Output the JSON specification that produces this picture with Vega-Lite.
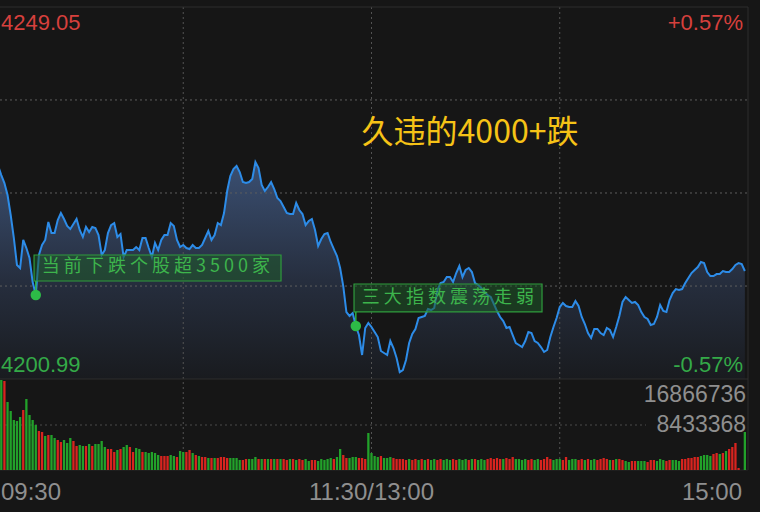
{
  "$schema": "https://vega.github.io/schema/vega-lite/v6.json",
  "width": 760,
  "height": 512,
  "autosize": {"type": "none"},
  "padding": 0,
  "background": "#161616",
  "config": {"view": {"stroke": null}, "axis": {"disable": true}},
  "datasets": {
    "minutes": [
      {"t": 0, "price": 4229.28, "vol": 16679312, "dir": "down"},
      {"t": 1, "price": 4228.51, "vol": 15929680, "dir": "up"},
      {"t": 2, "price": 4227.34, "vol": 16866736, "dir": "down"},
      {"t": 3, "price": 4226.31, "vol": 16679312, "dir": "up"},
      {"t": 4, "price": 4224.76, "vol": 12743744, "dir": "down"},
      {"t": 5, "price": 4222.18, "vol": 11057072, "dir": "down"},
      {"t": 6, "price": 4219.21, "vol": 9370400, "dir": "down"},
      {"t": 7, "price": 4215.72, "vol": 9182992, "dir": "down"},
      {"t": 8, "price": 4215.33, "vol": 9932624, "dir": "down"},
      {"t": 9, "price": 4218.95, "vol": 11244480, "dir": "up"},
      {"t": 10, "price": 4217.91, "vol": 13305968, "dir": "down"},
      {"t": 11, "price": 4216.62, "vol": 10307440, "dir": "down"},
      {"t": 12, "price": 4213.52, "vol": 9370400, "dir": "down"},
      {"t": 13, "price": 4211.84, "vol": 8433360, "dir": "down"},
      {"t": 14, "price": 4217.01, "vol": 7308912, "dir": "up"},
      {"t": 15, "price": 4218.30, "vol": 7121504, "dir": "up"},
      {"t": 16, "price": 4218.95, "vol": 6371872, "dir": "down"},
      {"t": 17, "price": 4221.27, "vol": 6559280, "dir": "up"},
      {"t": 18, "price": 4219.85, "vol": 6559280, "dir": "down"},
      {"t": 19, "price": 4219.85, "vol": 5997056, "dir": "down"},
      {"t": 20, "price": 4221.53, "vol": 5622240, "dir": "up"},
      {"t": 21, "price": 4222.43, "vol": 5247424, "dir": "up"},
      {"t": 22, "price": 4221.66, "vol": 5622240, "dir": "down"},
      {"t": 23, "price": 4220.76, "vol": 5060016, "dir": "down"},
      {"t": 24, "price": 4220.37, "vol": 5997056, "dir": "down"},
      {"t": 25, "price": 4221.01, "vol": 5434832, "dir": "up"},
      {"t": 26, "price": 4221.66, "vol": 4497792, "dir": "up"},
      {"t": 27, "price": 4220.24, "vol": 4685200, "dir": "down"},
      {"t": 28, "price": 4219.34, "vol": 4497792, "dir": "down"},
      {"t": 29, "price": 4220.63, "vol": 4497792, "dir": "up"},
      {"t": 30, "price": 4219.98, "vol": 4872608, "dir": "down"},
      {"t": 31, "price": 4220.63, "vol": 4497792, "dir": "up"},
      {"t": 32, "price": 4220.50, "vol": 4872608, "dir": "down"},
      {"t": 33, "price": 4219.59, "vol": 4872608, "dir": "down"},
      {"t": 34, "price": 4217.01, "vol": 5434832, "dir": "down"},
      {"t": 35, "price": 4217.65, "vol": 4310384, "dir": "down"},
      {"t": 36, "price": 4219.85, "vol": 3935568, "dir": "up"},
      {"t": 37, "price": 4220.88, "vol": 3935568, "dir": "up"},
      {"t": 38, "price": 4221.14, "vol": 3373344, "dir": "up"},
      {"t": 39, "price": 4219.34, "vol": 3748160, "dir": "down"},
      {"t": 40, "price": 4219.72, "vol": 3935568, "dir": "up"},
      {"t": 41, "price": 4216.75, "vol": 4310384, "dir": "down"},
      {"t": 42, "price": 4217.65, "vol": 4685200, "dir": "down"},
      {"t": 43, "price": 4217.65, "vol": 4310384, "dir": "up"},
      {"t": 44, "price": 4217.65, "vol": 3373344, "dir": "up"},
      {"t": 45, "price": 4218.04, "vol": 4122976, "dir": "down"},
      {"t": 46, "price": 4217.65, "vol": 3935568, "dir": "down"},
      {"t": 47, "price": 4219.21, "vol": 3373344, "dir": "up"},
      {"t": 48, "price": 4219.21, "vol": 3373344, "dir": "down"},
      {"t": 49, "price": 4217.91, "vol": 3185936, "dir": "down"},
      {"t": 50, "price": 4216.75, "vol": 3373344, "dir": "down"},
      {"t": 51, "price": 4218.56, "vol": 3185936, "dir": "down"},
      {"t": 52, "price": 4217.65, "vol": 2811120, "dir": "down"},
      {"t": 53, "price": 4218.95, "vol": 2623712, "dir": "up"},
      {"t": 54, "price": 4219.59, "vol": 2623712, "dir": "up"},
      {"t": 55, "price": 4219.59, "vol": 2623712, "dir": "up"},
      {"t": 56, "price": 4221.14, "vol": 2811120, "dir": "down"},
      {"t": 57, "price": 4220.76, "vol": 2623712, "dir": "down"},
      {"t": 58, "price": 4218.95, "vol": 2436304, "dir": "up"},
      {"t": 59, "price": 4218.04, "vol": 3560752, "dir": "down"},
      {"t": 60, "price": 4218.30, "vol": 3373344, "dir": "down"},
      {"t": 61, "price": 4217.91, "vol": 3373344, "dir": "up"},
      {"t": 62, "price": 4217.78, "vol": 3748160, "dir": "up"},
      {"t": 63, "price": 4218.30, "vol": 3185936, "dir": "down"},
      {"t": 64, "price": 4217.91, "vol": 2811120, "dir": "up"},
      {"t": 65, "price": 4217.91, "vol": 2623712, "dir": "down"},
      {"t": 66, "price": 4218.30, "vol": 2436304, "dir": "up"},
      {"t": 67, "price": 4219.21, "vol": 2436304, "dir": "up"},
      {"t": 68, "price": 4220.11, "vol": 2248896, "dir": "down"},
      {"t": 69, "price": 4218.95, "vol": 2248896, "dir": "up"},
      {"t": 70, "price": 4219.59, "vol": 2248896, "dir": "down"},
      {"t": 71, "price": 4221.14, "vol": 2248896, "dir": "up"},
      {"t": 72, "price": 4220.88, "vol": 2436304, "dir": "up"},
      {"t": 73, "price": 4222.43, "vol": 2436304, "dir": "up"},
      {"t": 74, "price": 4225.28, "vol": 2248896, "dir": "up"},
      {"t": 75, "price": 4227.21, "vol": 2248896, "dir": "down"},
      {"t": 76, "price": 4228.12, "vol": 2248896, "dir": "down"},
      {"t": 77, "price": 4228.51, "vol": 2248896, "dir": "down"},
      {"t": 78, "price": 4227.73, "vol": 1874080, "dir": "down"},
      {"t": 79, "price": 4226.44, "vol": 1874080, "dir": "up"},
      {"t": 80, "price": 4226.31, "vol": 2061488, "dir": "up"},
      {"t": 81, "price": 4226.44, "vol": 2061488, "dir": "down"},
      {"t": 82, "price": 4226.83, "vol": 2061488, "dir": "down"},
      {"t": 83, "price": 4229.02, "vol": 2436304, "dir": "down"},
      {"t": 84, "price": 4228.25, "vol": 2061488, "dir": "up"},
      {"t": 85, "price": 4226.05, "vol": 2061488, "dir": "down"},
      {"t": 86, "price": 4225.28, "vol": 2061488, "dir": "up"},
      {"t": 87, "price": 4225.79, "vol": 2061488, "dir": "down"},
      {"t": 88, "price": 4226.44, "vol": 2061488, "dir": "up"},
      {"t": 89, "price": 4225.53, "vol": 2061488, "dir": "down"},
      {"t": 90, "price": 4224.37, "vol": 2061488, "dir": "up"},
      {"t": 91, "price": 4223.98, "vol": 2061488, "dir": "down"},
      {"t": 92, "price": 4223.21, "vol": 2061488, "dir": "up"},
      {"t": 93, "price": 4222.43, "vol": 1874080, "dir": "up"},
      {"t": 94, "price": 4222.30, "vol": 2061488, "dir": "down"},
      {"t": 95, "price": 4222.30, "vol": 2061488, "dir": "up"},
      {"t": 96, "price": 4223.73, "vol": 1874080, "dir": "down"},
      {"t": 97, "price": 4222.82, "vol": 2061488, "dir": "up"},
      {"t": 98, "price": 4222.30, "vol": 1874080, "dir": "up"},
      {"t": 99, "price": 4220.88, "vol": 2061488, "dir": "down"},
      {"t": 100, "price": 4221.40, "vol": 1686672, "dir": "down"},
      {"t": 101, "price": 4221.66, "vol": 1874080, "dir": "up"},
      {"t": 102, "price": 4220.24, "vol": 1874080, "dir": "up"},
      {"t": 103, "price": 4218.17, "vol": 1686672, "dir": "down"},
      {"t": 104, "price": 4219.08, "vol": 2061488, "dir": "down"},
      {"t": 105, "price": 4219.72, "vol": 1874080, "dir": "down"},
      {"t": 106, "price": 4219.85, "vol": 2061488, "dir": "down"},
      {"t": 107, "price": 4218.69, "vol": 2248896, "dir": "down"},
      {"t": 108, "price": 4217.78, "vol": 2061488, "dir": "up"},
      {"t": 109, "price": 4216.88, "vol": 2436304, "dir": "down"},
      {"t": 110, "price": 4215.33, "vol": 3935568, "dir": "down"},
      {"t": 111, "price": 4213.00, "vol": 2811120, "dir": "up"},
      {"t": 112, "price": 4209.64, "vol": 2248896, "dir": "up"},
      {"t": 113, "price": 4209.13, "vol": 2248896, "dir": "down"},
      {"t": 114, "price": 4209.51, "vol": 2436304, "dir": "down"},
      {"t": 115, "price": 4207.83, "vol": 2436304, "dir": "down"},
      {"t": 116, "price": 4206.67, "vol": 2248896, "dir": "up"},
      {"t": 117, "price": 4204.09, "vol": 2248896, "dir": "up"},
      {"t": 118, "price": 4207.58, "vol": 2061488, "dir": "up"},
      {"t": 119, "price": 4208.22, "vol": 6934096, "dir": "down"},
      {"t": 120, "price": 4207.71, "vol": 3185936, "dir": "down"},
      {"t": 121, "price": 4207.06, "vol": 2623712, "dir": "down"},
      {"t": 122, "price": 4206.41, "vol": 2436304, "dir": "down"},
      {"t": 123, "price": 4204.61, "vol": 2623712, "dir": "up"},
      {"t": 124, "price": 4204.35, "vol": 2248896, "dir": "down"},
      {"t": 125, "price": 4204.09, "vol": 2248896, "dir": "down"},
      {"t": 126, "price": 4205.90, "vol": 2436304, "dir": "down"},
      {"t": 127, "price": 4204.99, "vol": 2248896, "dir": "up"},
      {"t": 128, "price": 4203.70, "vol": 2061488, "dir": "up"},
      {"t": 129, "price": 4201.89, "vol": 2061488, "dir": "up"},
      {"t": 130, "price": 4202.15, "vol": 2061488, "dir": "up"},
      {"t": 131, "price": 4203.44, "vol": 1874080, "dir": "up"},
      {"t": 132, "price": 4205.64, "vol": 2061488, "dir": "down"},
      {"t": 133, "price": 4206.80, "vol": 1874080, "dir": "up"},
      {"t": 134, "price": 4207.45, "vol": 2061488, "dir": "up"},
      {"t": 135, "price": 4208.87, "vol": 1874080, "dir": "down"},
      {"t": 136, "price": 4209.00, "vol": 2061488, "dir": "up"},
      {"t": 137, "price": 4209.13, "vol": 1874080, "dir": "down"},
      {"t": 138, "price": 4210.03, "vol": 2061488, "dir": "up"},
      {"t": 139, "price": 4209.90, "vol": 1874080, "dir": "down"},
      {"t": 140, "price": 4210.16, "vol": 2061488, "dir": "down"},
      {"t": 141, "price": 4212.49, "vol": 1874080, "dir": "up"},
      {"t": 142, "price": 4213.39, "vol": 2061488, "dir": "up"},
      {"t": 143, "price": 4213.52, "vol": 1874080, "dir": "down"},
      {"t": 144, "price": 4214.17, "vol": 2061488, "dir": "down"},
      {"t": 145, "price": 4214.17, "vol": 1874080, "dir": "down"},
      {"t": 146, "price": 4213.52, "vol": 2061488, "dir": "up"},
      {"t": 147, "price": 4214.68, "vol": 1874080, "dir": "up"},
      {"t": 148, "price": 4215.59, "vol": 2061488, "dir": "down"},
      {"t": 149, "price": 4214.17, "vol": 1874080, "dir": "down"},
      {"t": 150, "price": 4215.07, "vol": 2061488, "dir": "down"},
      {"t": 151, "price": 4215.33, "vol": 1874080, "dir": "up"},
      {"t": 152, "price": 4214.81, "vol": 2061488, "dir": "down"},
      {"t": 153, "price": 4213.39, "vol": 2061488, "dir": "up"},
      {"t": 154, "price": 4213.13, "vol": 1874080, "dir": "down"},
      {"t": 155, "price": 4212.74, "vol": 2061488, "dir": "down"},
      {"t": 156, "price": 4212.23, "vol": 1874080, "dir": "down"},
      {"t": 157, "price": 4211.84, "vol": 2061488, "dir": "up"},
      {"t": 158, "price": 4211.58, "vol": 2248896, "dir": "up"},
      {"t": 159, "price": 4210.68, "vol": 2061488, "dir": "up"},
      {"t": 160, "price": 4209.77, "vol": 2248896, "dir": "up"},
      {"t": 161, "price": 4209.00, "vol": 2061488, "dir": "up"},
      {"t": 162, "price": 4208.48, "vol": 2061488, "dir": "down"},
      {"t": 163, "price": 4207.58, "vol": 2248896, "dir": "up"},
      {"t": 164, "price": 4207.71, "vol": 2061488, "dir": "up"},
      {"t": 165, "price": 4206.67, "vol": 2436304, "dir": "up"},
      {"t": 166, "price": 4205.64, "vol": 2061488, "dir": "down"},
      {"t": 167, "price": 4205.38, "vol": 2061488, "dir": "down"},
      {"t": 168, "price": 4205.12, "vol": 1874080, "dir": "down"},
      {"t": 169, "price": 4205.90, "vol": 2061488, "dir": "down"},
      {"t": 170, "price": 4207.06, "vol": 1874080, "dir": "up"},
      {"t": 171, "price": 4206.93, "vol": 2061488, "dir": "up"},
      {"t": 172, "price": 4205.90, "vol": 1874080, "dir": "down"},
      {"t": 173, "price": 4205.64, "vol": 2061488, "dir": "down"},
      {"t": 174, "price": 4205.12, "vol": 1874080, "dir": "up"},
      {"t": 175, "price": 4204.48, "vol": 2061488, "dir": "up"},
      {"t": 176, "price": 4204.74, "vol": 2436304, "dir": "up"},
      {"t": 177, "price": 4206.41, "vol": 2061488, "dir": "up"},
      {"t": 178, "price": 4207.71, "vol": 1874080, "dir": "down"},
      {"t": 179, "price": 4208.87, "vol": 2061488, "dir": "down"},
      {"t": 180, "price": 4210.29, "vol": 2061488, "dir": "down"},
      {"t": 181, "price": 4210.81, "vol": 1874080, "dir": "up"},
      {"t": 182, "price": 4210.42, "vol": 2436304, "dir": "up"},
      {"t": 183, "price": 4210.29, "vol": 1874080, "dir": "down"},
      {"t": 184, "price": 4210.29, "vol": 2061488, "dir": "down"},
      {"t": 185, "price": 4211.06, "vol": 2061488, "dir": "down"},
      {"t": 186, "price": 4210.42, "vol": 1874080, "dir": "up"},
      {"t": 187, "price": 4209.00, "vol": 2061488, "dir": "up"},
      {"t": 188, "price": 4208.09, "vol": 1874080, "dir": "down"},
      {"t": 189, "price": 4206.93, "vol": 2061488, "dir": "up"},
      {"t": 190, "price": 4206.28, "vol": 1874080, "dir": "down"},
      {"t": 191, "price": 4207.45, "vol": 2061488, "dir": "down"},
      {"t": 192, "price": 4207.45, "vol": 1874080, "dir": "up"},
      {"t": 193, "price": 4206.93, "vol": 2061488, "dir": "up"},
      {"t": 194, "price": 4206.67, "vol": 2248896, "dir": "up"},
      {"t": 195, "price": 4207.58, "vol": 2061488, "dir": "up"},
      {"t": 196, "price": 4207.32, "vol": 1874080, "dir": "down"},
      {"t": 197, "price": 4206.41, "vol": 1874080, "dir": "up"},
      {"t": 198, "price": 4207.71, "vol": 2061488, "dir": "down"},
      {"t": 199, "price": 4209.13, "vol": 2061488, "dir": "up"},
      {"t": 200, "price": 4210.94, "vol": 1874080, "dir": "up"},
      {"t": 201, "price": 4211.58, "vol": 1686672, "dir": "down"},
      {"t": 202, "price": 4211.19, "vol": 1499264, "dir": "down"},
      {"t": 203, "price": 4210.81, "vol": 1686672, "dir": "up"},
      {"t": 204, "price": 4210.94, "vol": 1686672, "dir": "up"},
      {"t": 205, "price": 4210.55, "vol": 1686672, "dir": "down"},
      {"t": 206, "price": 4209.64, "vol": 1686672, "dir": "down"},
      {"t": 207, "price": 4209.00, "vol": 1686672, "dir": "down"},
      {"t": 208, "price": 4208.74, "vol": 1499264, "dir": "up"},
      {"t": 209, "price": 4207.96, "vol": 1874080, "dir": "up"},
      {"t": 210, "price": 4208.09, "vol": 1874080, "dir": "up"},
      {"t": 211, "price": 4209.00, "vol": 1686672, "dir": "down"},
      {"t": 212, "price": 4210.55, "vol": 2061488, "dir": "down"},
      {"t": 213, "price": 4209.77, "vol": 1874080, "dir": "down"},
      {"t": 214, "price": 4209.64, "vol": 1686672, "dir": "up"},
      {"t": 215, "price": 4211.19, "vol": 1874080, "dir": "up"},
      {"t": 216, "price": 4212.10, "vol": 1874080, "dir": "down"},
      {"t": 217, "price": 4212.61, "vol": 1874080, "dir": "down"},
      {"t": 218, "price": 4212.49, "vol": 1686672, "dir": "down"},
      {"t": 219, "price": 4212.61, "vol": 2061488, "dir": "up"},
      {"t": 220, "price": 4213.39, "vol": 2061488, "dir": "up"},
      {"t": 221, "price": 4214.04, "vol": 2248896, "dir": "up"},
      {"t": 222, "price": 4214.68, "vol": 2248896, "dir": "up"},
      {"t": 223, "price": 4215.07, "vol": 2436304, "dir": "up"},
      {"t": 224, "price": 4215.46, "vol": 2436304, "dir": "up"},
      {"t": 225, "price": 4216.10, "vol": 2623712, "dir": "down"},
      {"t": 226, "price": 4215.97, "vol": 2811120, "dir": "down"},
      {"t": 227, "price": 4214.81, "vol": 2811120, "dir": "down"},
      {"t": 228, "price": 4214.29, "vol": 2623712, "dir": "down"},
      {"t": 229, "price": 4214.29, "vol": 2998528, "dir": "up"},
      {"t": 230, "price": 4214.55, "vol": 3185936, "dir": "up"},
      {"t": 231, "price": 4214.55, "vol": 2998528, "dir": "down"},
      {"t": 232, "price": 4214.94, "vol": 3185936, "dir": "up"},
      {"t": 233, "price": 4214.81, "vol": 3560752, "dir": "down"},
      {"t": 234, "price": 4214.81, "vol": 3935568, "dir": "up"},
      {"t": 235, "price": 4215.20, "vol": 4310384, "dir": "up"},
      {"t": 236, "price": 4215.72, "vol": 5060016, "dir": "up"},
      {"t": 237, "price": 4215.97, "vol": 374816, "dir": "up"},
      {"t": 238, "price": 4215.84, "vol": 0, "dir": "up"},
      {"t": 239, "price": 4214.94, "vol": 7121504, "dir": "down"}
    ],
    "notes": [
      {"t": 13, "price": 4211.84, "note": "当 前 下 跌 个 股 超 3 5 0 0  家"},
      {"t": 115, "price": 4207.83, "note": "三 大 指 数 震 荡 走 弱"}
    ]
  },
  "layer": [
    {
      "layer": [
        {
          "data": {"name": "minutes"},
          "mark": {
            "type": "area",
            "clip": true,
            "color": {
              "gradient": "linear",
              "x1": 0, "y1": 0, "x2": 0, "y2": 1,
              "stops": [
                {"offset": 0, "color": "#3b5073"},
                {"offset": 0.55, "color": "#262e3e"},
                {"offset": 1, "color": "#191b1f"}
              ]
            }
          },
          "encoding": {
            "x": {"field": "t", "type": "quantitative", "scale": {"domain": [1.594, 243.825], "nice": false, "zero": false, "padding": 0}},
            "y": {"field": "price", "type": "quantitative", "scale": {"domain": [4183.807, 4249.954], "nice": false, "zero": false}},
            "y2": {"datum": 4200.99}
          }
        },
        {
          "data": {"values": [{"level": 4237.04}, {"level": 4225.02}, {"level": 4213.0}]},
          "mark": {"type": "rule", "clip": true, "color": "#5e5e5e", "strokeDash": [2, 3], "strokeWidth": 1},
          "encoding": {
            "x": {"datum": 0},
            "x2": {"datum": 240},
            "y": {"field": "level", "type": "quantitative"}
          }
        },
        {
          "data": {"values": [{"t": 60}, {"t": 120}, {"t": 180}]},
          "mark": {"type": "rule", "clip": true, "color": "#545454", "strokeDash": [2, 3], "strokeWidth": 1},
          "encoding": {
            "x": {"field": "t", "type": "quantitative"},
            "y": {"datum": 4249.05},
            "y2": {"datum": 4189.23}
          }
        },
        {
          "data": {"values": [{"level": 4249.05}, {"level": 4200.99}]},
          "mark": {"type": "rule", "clip": true, "color": "#2e2e2e", "strokeWidth": 1},
          "encoding": {
            "x": {"datum": 0},
            "x2": {"datum": 240},
            "y": {"field": "level", "type": "quantitative"}
          }
        },
        {
          "data": {"values": [{"t": 240}]},
          "mark": {"type": "rule", "clip": true, "color": "#2e2e2e", "strokeWidth": 1},
          "encoding": {
            "x": {"field": "t", "type": "quantitative"},
            "y": {"datum": 4249.05},
            "y2": {"datum": 4189.23}
          }
        },
        {
          "data": {"name": "minutes"},
          "mark": {"type": "line", "clip": true, "color": "#2d8ce8", "strokeWidth": 2},
          "encoding": {
            "x": {"field": "t", "type": "quantitative"},
            "y": {"field": "price", "type": "quantitative"}
          }
        },
        {
          "data": {"values": [{}]},
          "mark": {"type": "rect", "clip": true, "fill": "#1f5a2a", "fillOpacity": 0.55, "stroke": "#2f9c3d", "strokeWidth": 1.2},
          "encoding": {
            "x": {"datum": 12.45},
            "x2": {"datum": 91.16},
            "y": {"datum": 4217.01},
            "y2": {"datum": 4213.65}
          }
        },
        {
          "data": {"values": [{}]},
          "mark": {"type": "rect", "clip": true, "fill": "#1f5a2a", "fillOpacity": 0.55, "stroke": "#2f9c3d", "strokeWidth": 1.2},
          "encoding": {
            "x": {"datum": 114.43},
            "x2": {"datum": 174.35},
            "y": {"datum": 4213.26},
            "y2": {"datum": 4209.65}
          }
        },
        {
          "data": {"name": "notes"},
          "mark": {"type": "rule", "clip": true, "color": "#2fae42", "strokeWidth": 1.5, "y2Offset": -14},
          "encoding": {
            "x": {"field": "t", "type": "quantitative"},
            "y": {"field": "price", "type": "quantitative"},
            "y2": {"field": "price"}
          }
        },
        {
          "data": {"name": "notes"},
          "mark": {"type": "point", "clip": true, "filled": true, "opacity": 1, "size": 110, "color": "#2dbb47"},
          "encoding": {
            "x": {"field": "t", "type": "quantitative"},
            "y": {"field": "price", "type": "quantitative"}
          }
        },
        {
          "data": {"name": "notes"},
          "mark": {"type": "text", "clip": true, "font": "Noto Sans CJK SC", "fontSize": 18, "color": "#3db44c", "align": "left", "baseline": "middle", "dx": 6, "dy": -28},
          "encoding": {
            "x": {"field": "t", "type": "quantitative"},
            "y": {"field": "price", "type": "quantitative"},
            "text": {"field": "note"}
          }
        },
        {
          "data": {"values": [{}]},
          "mark": {"type": "text", "clip": true, "text": "久违的4000+跌", "font": "Noto Sans CJK SC", "fontSize": 32, "color": "#f6c316", "align": "center", "baseline": "middle"},
          "encoding": {"x": {"datum": 151.4}, "y": {"datum": 4232.77}}
        },
        {
          "data": {"values": [{}]},
          "mark": {"type": "text", "clip": true, "text": "4249.05", "font": "Liberation Sans", "fontSize": 22, "color": "#d6403d", "align": "left", "baseline": "middle", "dx": 1},
          "encoding": {"x": {"datum": 1.594}, "y": {"datum": 4246.92}}
        },
        {
          "data": {"values": [{}]},
          "mark": {"type": "text", "clip": true, "text": "+0.57%", "font": "Liberation Sans", "fontSize": 22, "color": "#d6403d", "align": "right", "baseline": "middle"},
          "encoding": {"x": {"datum": 238.4}, "y": {"datum": 4246.92}}
        },
        {
          "data": {"values": [{}]},
          "mark": {"type": "text", "clip": true, "text": "4200.99", "font": "Liberation Sans", "fontSize": 22, "color": "#34aa48", "align": "left", "baseline": "middle", "dx": 1},
          "encoding": {"x": {"datum": 1.594}, "y": {"datum": 4202.86}}
        },
        {
          "data": {"values": [{}]},
          "mark": {"type": "text", "clip": true, "text": "-0.57%", "font": "Liberation Sans", "fontSize": 22, "color": "#34aa48", "align": "right", "baseline": "middle"},
          "encoding": {"x": {"datum": 238.4}, "y": {"datum": 4202.86}}
        },
        {
          "data": {"values": [{}]},
          "mark": {"type": "text", "clip": true, "text": "09:30", "font": "Liberation Sans", "fontSize": 24, "color": "#8f8f8f", "align": "left", "baseline": "middle", "dx": 1},
          "encoding": {"x": {"datum": 1.594}, "y": {"datum": 4186.32}}
        },
        {
          "data": {"values": [{}]},
          "mark": {"type": "text", "clip": true, "text": "11:30/13:00", "font": "Liberation Sans", "fontSize": 24, "color": "#8f8f8f", "align": "center", "baseline": "middle"},
          "encoding": {"x": {"datum": 120}, "y": {"datum": 4186.32}}
        },
        {
          "data": {"values": [{}]},
          "mark": {"type": "text", "clip": true, "text": "15:00", "font": "Liberation Sans", "fontSize": 24, "color": "#8f8f8f", "align": "right", "baseline": "middle"},
          "encoding": {"x": {"datum": 238.1}, "y": {"datum": 4186.32}}
        }
      ]
    },
    {
      "layer": [
        {
          "data": {"values": [{"level": 8433368}]},
          "mark": {"type": "rule", "clip": true, "color": "#4a4a4a", "strokeDash": [2, 3], "strokeWidth": 1},
          "encoding": {
            "x": {"datum": 0},
            "x2": {"datum": 207.5},
            "y": {"field": "level", "type": "quantitative", "scale": {"domain": [-7871136, 88081856], "nice": false, "zero": false}}
          }
        },
        {
          "data": {"values": [{"level": 0}]},
          "mark": {"type": "rule", "clip": true, "color": "#262626", "strokeWidth": 1},
          "encoding": {
            "x": {"datum": 0},
            "x2": {"datum": 240},
            "y": {"field": "level", "type": "quantitative"}
          }
        },
        {
          "data": {"name": "minutes"},
          "mark": {"type": "bar", "clip": true, "size": 2.3},
          "encoding": {
            "x": {"field": "t", "type": "quantitative", "scale": {"domain": [1.594, 243.825], "nice": false, "zero": false, "padding": 0}},
            "y": {"field": "vol", "type": "quantitative"},
            "y2": {"datum": 0},
            "color": {"field": "dir", "type": "nominal", "scale": {"domain": ["up", "down"], "range": ["#d8241f", "#22a12a"]}, "legend": null}
          }
        },
        {
          "data": {"values": [{}]},
          "mark": {"type": "text", "clip": true, "text": "16866736", "font": "Liberation Sans", "fontSize": 23, "color": "#8f8f8f", "align": "right", "baseline": "middle"},
          "encoding": {"x": {"datum": 239.4}, "y": {"datum": 14055696}}
        },
        {
          "data": {"values": [{}]},
          "mark": {"type": "text", "clip": true, "text": "8433368", "font": "Liberation Sans", "fontSize": 23, "color": "#8f8f8f", "align": "right", "baseline": "middle"},
          "encoding": {"x": {"datum": 239.4}, "y": {"datum": 8433456}}
        }
      ]
    }
  ],
  "resolve": {"scale": {"y": "independent"}}
}
